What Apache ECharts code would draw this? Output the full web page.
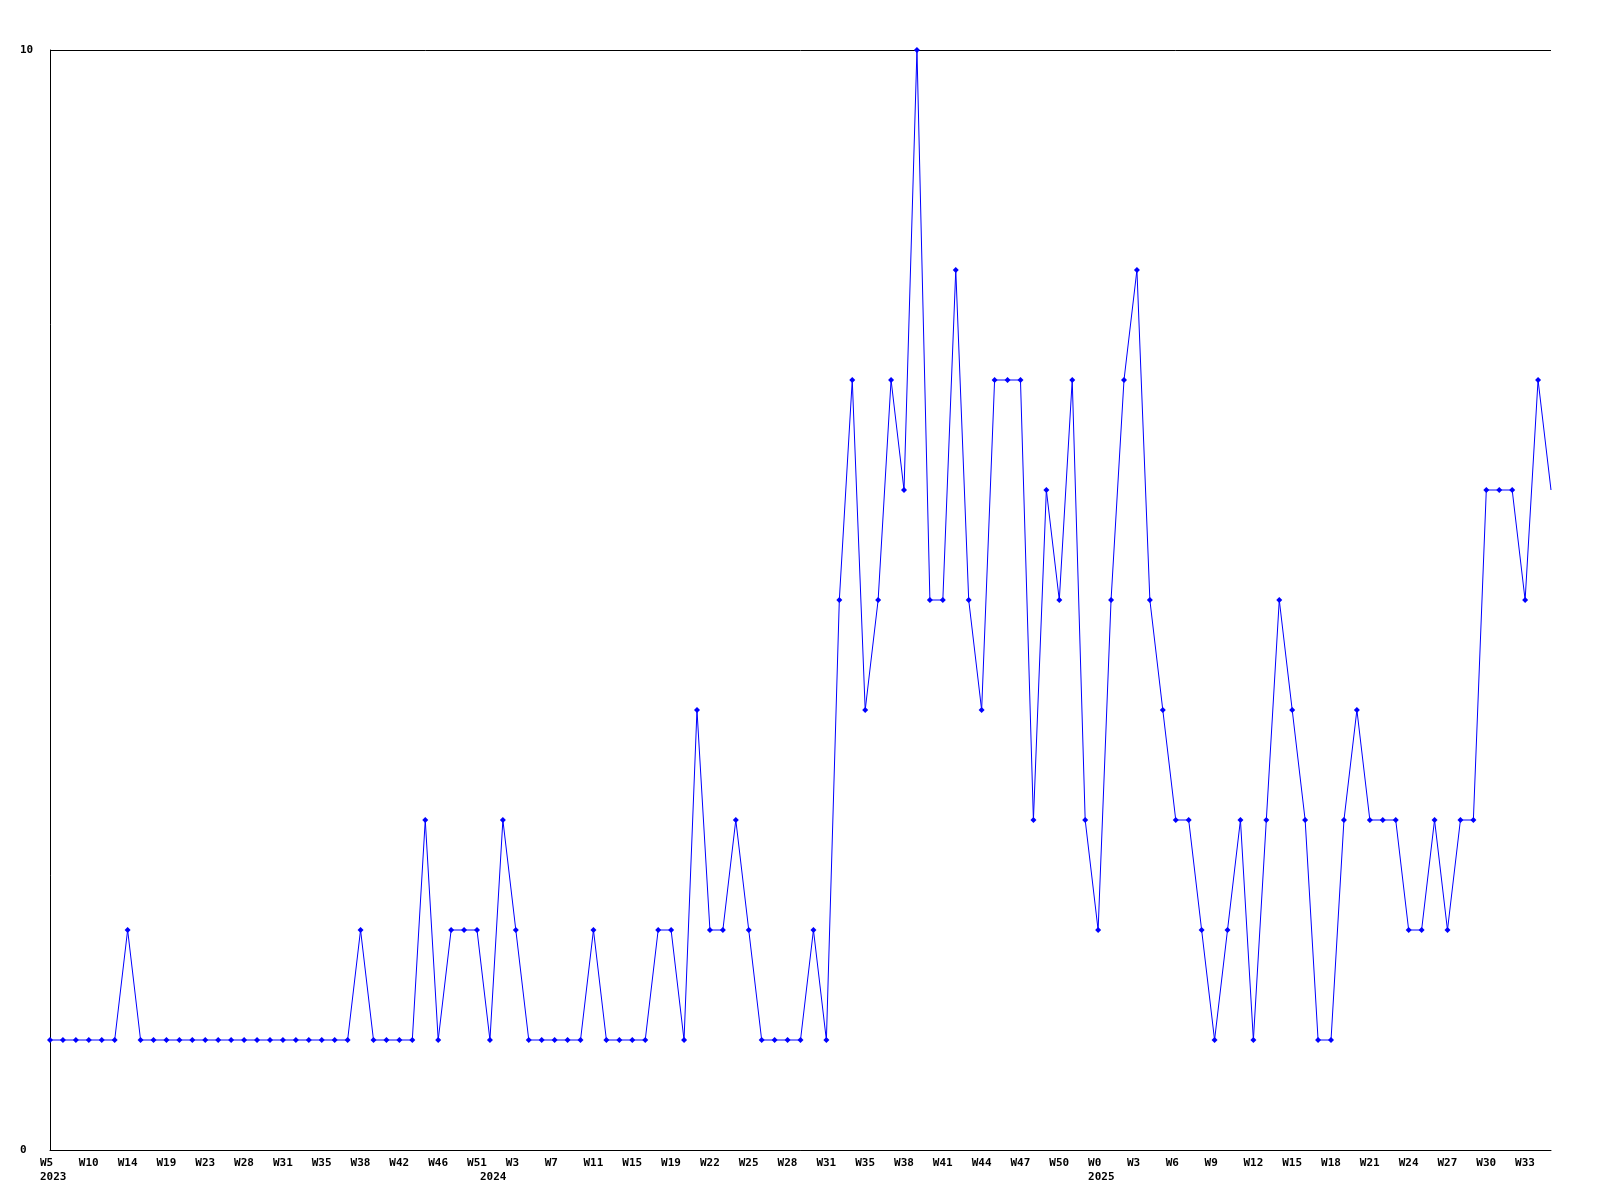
<!DOCTYPE html>
<html>
<head>
<meta charset="utf-8">
<script src="https://cdn.jsdelivr.net/npm/echarts@6/dist/echarts.min.js"></script>
<style>
  html, body { margin: 0; padding: 0; background: #ffffff; }
  #chart { width: 1600px; height: 1200px; }
</style>
</head>
<body>
<div id="chart"></div>
<script>
// Tick labels shown at every 3rd point
const tickLabels = ['W5','W10','W14','W19','W23','W28','W31','W35','W38','W42','W46','W51',
  'W3','W7','W11','W15','W19','W22','W25','W28','W31','W35','W38','W41','W44','W47','W50',
  'W0','W3','W6','W9','W12','W15','W18','W21','W24','W27','W30','W33'];
const yearLabels = ['2023', '2024', '2025'];
const yearAtPoint = [0, 34, 81];

// Series values (one per point)
const values = [
  1,1,1,1,1,1, 2,
  1,1,1,1,1,1,1,1,1,1,1,1,1,1,1,1,1,
  2, 1,1,1,1, 3, 1, 2,2,2, 1, 3, 2,
  1,1,1,1,1, 2, 1,1,1,1, 2,2, 1, 4, 2,2, 3, 2,
  1,1,1,1, 2, 1, 5, 7, 4, 5, 7, 6, 10, 5,5, 8, 5, 4,
  7,7,7, 3, 6, 5, 7, 3, 2, 5, 7, 8, 5, 4, 3,3, 2, 1, 2, 3, 1, 3,
  5, 4, 3, 1,1, 3, 4, 3,3,3, 2,2, 3, 2, 3,3, 6,6,6, 5, 7, 6
];
const categories = values.map((_, i) => String(i));

const chart = echarts.init(document.getElementById('chart'), null, { renderer: 'canvas' });
const font = '"DejaVu Sans Mono", monospace';
chart.setOption({
  animation: false,
  backgroundColor: '#ffffff',
  grid: { left: 50, right: 49, top: 50, bottom: 50, containLabel: false },
  xAxis: {
    type: 'category',
    data: categories,
    boundaryGap: false,
    axisLine: { show: true, lineStyle: { color: '#000000', width: 1 } },
    axisTick: { show: false },
    splitLine: { show: false },
    axisLabel: {
      interval: function (index) {
        return index % 3 === 0 || yearAtPoint.indexOf(index) >= 0;
      },
      showMinLabel: true,
      showMaxLabel: true,
      hideOverlap: false,
      align: 'left',
      verticalAlign: 'top',
      padding: [0, 0, 0, -10],
      margin: 6,
      color: '#000000',
      fontFamily: font,
      fontWeight: 'bold',
      fontSize: 11,
      lineHeight: 14,
      formatter: function (value) {
        const i = Number(value);
        let s = (i % 3 === 0) ? (tickLabels[i / 3] || '') : '';
        const y = yearAtPoint.indexOf(i);
        if (y >= 0) s += '\n' + yearLabels[y];
        return s;
      }
    }
  },
  yAxis: {
    type: 'value',
    min: 0,
    max: 10,
    interval: 10,
    axisLine: { show: true, lineStyle: { color: '#000000', width: 1 } },
    axisTick: { show: false },
    splitLine: { show: true, lineStyle: { color: '#000000', width: 1 } },
    axisLabel: {
      align: 'left',
      margin: 30,
      color: '#000000',
      fontFamily: font,
      fontWeight: 'bold',
      fontSize: 11
    }
  },
  series: [{
    type: 'line',
    data: values.map((v, i) => i === values.length - 1 ? { value: v, symbol: 'none' } : v),
    symbol: 'diamond',
    symbolSize: 6,
    showAllSymbol: true,
    lineStyle: { color: '#0000ff', width: 1 },
    itemStyle: { color: '#0000ff' },
    clip: false
  }]
});
</script>
</body>
</html>
